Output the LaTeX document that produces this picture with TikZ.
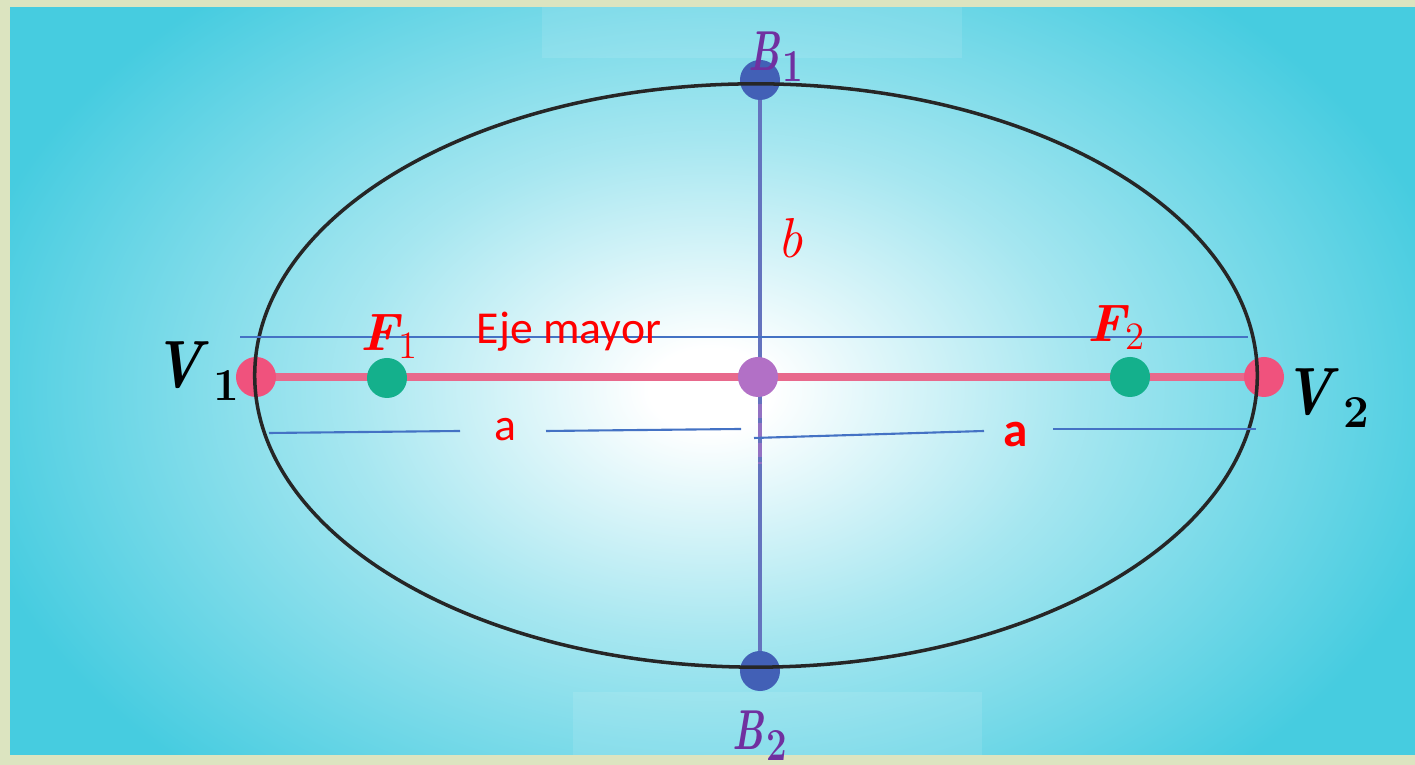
\documentclass[tikz,border=0pt]{standalone}
\usepackage{graphicx}
\usepackage{fontspec}
\newfontfamily\calibri{Carlito}
\usetikzlibrary{calc}
\definecolor{colSky}{RGB}{70,204,224}
\definecolor{colFrame}{RGB}{220,228,192}
\definecolor{colVertex}{RGB}{240,82,125}
\definecolor{colAxis}{RGB}{232,105,140}
\definecolor{colFocus}{RGB}{20,176,140}
\definecolor{colCenter}{RGB}{178,112,198}
\definecolor{colMinor}{RGB}{100,115,190}
\definecolor{colCovertex}{RGB}{66,96,182}
\definecolor{colGuide}{RGB}{68,114,196}
\definecolor{colPurple}{RGB}{112,48,160}
\pgfdeclareradialshading{skyglow}{\pgfpoint{0bp}{0bp}}{color(0bp)=(white); color(2bp)=(white); color(12bp)=(colSky!48!white); color(25bp)=(colSky); color(50bp)=(colSky)}
% point label: bold italic letter, bold upright index
\newcommand{\ptlab}[3]{\scalebox{0.85}[1]{\bfseries\itshape #1}\kern#3\raisebox{-0.45ex}{\fontsize{13}{13}\selectfont\bfseries #2}}

\begin{document}
\begin{tikzpicture}[x=0.01cm, y=-0.01cm,
    dot/.style={circle, inner sep=0pt, minimum size=0.4cm},
    guide/.style={colGuide, line width=0.6pt},
    redtext/.style={red, font=\calibri\fontsize{13}{15}\selectfont},
    vertexlabel/.style={black, font=\fontsize{19}{21}\selectfont},
    focuslabel/.style={red, font=\fontsize{15}{17}\selectfont},
    covertexlabel/.style={colPurple, font=\fontsize{16}{18}\selectfont}]
  \useasboundingbox (0,0) rectangle (1415,765);
  % frame and glow
  \fill[colFrame] (0,0) rectangle (1415,765);
  \begin{scope}
    \clip (10,8) rectangle (1415,755);
    \shade[shading=skyglow] (-50,-130) rectangle (1470,910);
    \fill[white, opacity=0.1] (542,3) rectangle (962,58);
    \fill[white, opacity=0.1] (573,692) rectangle (982,755);
  \end{scope}
  % points
  \coordinate (v1) at (256,377);
  \coordinate (v2) at (1264,377);
  \coordinate (f1) at (387,378);
  \coordinate (f2) at (1130,377);
  \coordinate (o) at (758,377);
  \coordinate (b1) at (760,80);
  \coordinate (b2) at (760,671);
  % axes
  \draw[colAxis, line width=2pt] (v1) -- (v2);
  \draw[colMinor, line width=1.4pt] (b1) -- (b2);
  \draw[colCenter!60!colMinor, line width=1.2pt, dash pattern=on 4pt off 1.5pt] (760,404) -- (760,464);
  % dots
  \node[dot, fill=colVertex] (dotV1) at (v1) {};
  \node[dot, fill=colVertex] (dotV2) at (v2) {};
  \node[dot, fill=colFocus] (dotF1) at (f1) {};
  \node[dot, fill=colFocus] (dotF2) at (f2) {};
  \node[dot, fill=colCenter] (dotO) at (o) {};
  \node[dot, fill=colCovertex] (dotB1) at (b1) {};
  \node[dot, fill=colCovertex] (dotB2) at (b2) {};
  % ellipse
  \draw[black!85, line width=1pt] (756,375.5) ellipse [x radius=5.01cm, y radius=2.915cm];
  % guide lines
  \coordinate (topL) at (240,337);
  \coordinate (topR) at (1248,337);
  \coordinate (aL1) at (269,433);
  \coordinate (aL2) at (460,431);
  \coordinate (aL3) at (546,431);
  \coordinate (aL4) at (741,429);
  \coordinate (aR1) at (754,438);
  \coordinate (aR2) at (984,431);
  \coordinate (aR3) at (1053,429);
  \coordinate (aR4) at (1256,429);
  \draw[guide] (topL) -- (topR);
  \draw[guide] (aL1) -- (aL2);
  \draw[guide] (aL3) -- (aL4);
  \draw[guide] (aR1) -- (aR2);
  \draw[guide] (aR3) -- (aR4);
  % labels
  \node[vertexlabel] (labV1) at (196,371) {\ptlab{V}{1}{3pt}};
  \node[vertexlabel] (labV2) at (1326,398) {\ptlab{V}{2}{3pt}};
  \node[focuslabel] (labF1) at (389,337) {\textbf{\textit{F}}\kern-1pt\raisebox{-0.35ex}{\fontsize{11}{11}\selectfont 1}};
  \node[focuslabel] (labF2) at (1116,328) {\textbf{\textit{F}}\kern-1pt\raisebox{-0.35ex}{\fontsize{11}{11}\selectfont 2}};
  \node[covertexlabel] (labB1) at (776,57) {\scalebox{0.8}[1]{\ptlab{B}{1}{1pt}}};
  \node[covertexlabel] (labB2) at (760,736) {\scalebox{0.8}[1]{\ptlab{B}{2}{1pt}}};
  \node[red, font=\fontsize{16}{18}\selectfont\itshape] (labb) at (790,238) {b};
  \node[redtext] (labEje) at (569,332) {Eje mayor};
  \node[redtext] (labaL) at (505,430) {a};
  \node[redtext, font=\calibri\bfseries\fontsize{14}{16}\selectfont] (labaR) at (1016,435) {a};
\end{tikzpicture}
\end{document}
